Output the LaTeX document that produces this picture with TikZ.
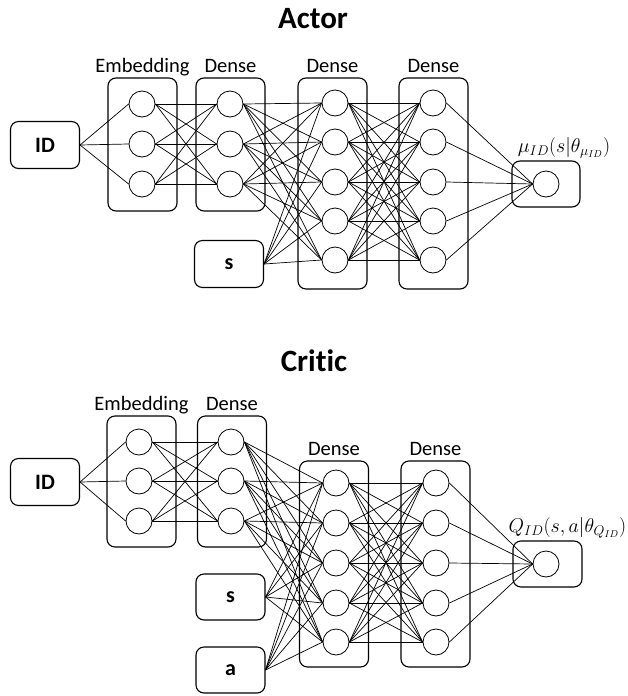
\RequirePackage{fix-cm}
\documentclass[tikz,border=0pt]{standalone}
\usepackage{fontspec}
\setmainfont{Carlito}[Ligatures=NoCommon]
\usetikzlibrary{positioning}

\begin{document}
\begin{tikzpicture}[x=1pt,y=-1pt,line join=round,
  layer/.style={draw,rounded corners=8pt,line width=1.1pt,minimum width=69pt,inner sep=0pt},
  unit/.style={draw,circle,fill=white,minimum size=26pt,inner sep=0pt,line width=0.8pt},
  inbox/.style={draw,rounded corners=8pt,line width=1.1pt,minimum width=69pt,minimum height=47pt,
    inner sep=0pt,font=\bfseries\fontsize{22}{24}\selectfont},
  lbl/.style={font=\fontsize{20.5}{22}\selectfont,inner sep=1pt,text depth=4pt},
  ttl/.style={font=\bfseries\fontsize{31}{34}\selectfont},
  mlbl/.style={font=\fontsize{20}{22}\selectfont,inner sep=1pt},
  link/.style={line width=0.7pt}]
  \useasboundingbox (0,0) rectangle (628,696);

  % ---- actor network
  \node[ttl] (a-title) at (313,19) {Actor};
  \node[inbox] (a-id) at (45,145) {ID};
  \node[inbox] (a-s) at (229,264) {s};
  \node[layer,minimum height=133pt] (a-emb) at (142.5,144.5) {};
  \node[layer,minimum height=133pt] (a-den1) at (230.5,144.5) {};
  \node[layer,minimum height=211pt] (a-den2) at (332.5,183.5) {};
  \node[layer,minimum height=211pt] (a-den3) at (433.5,183.5) {};
  \node[layer,minimum width=68pt,minimum height=46pt] (a-outbox) at (546,184) {};
  \node[lbl,above=0pt of a-emb] (a-emb-lbl) {Embedding};
  \node[lbl,above=0pt of a-den1] (a-den1-lbl) {Dense};
  \node[lbl,above=0pt of a-den2] (a-den2-lbl) {Dense};
  \node[lbl,above=0pt of a-den3] (a-den3-lbl) {Dense};
  \node[mlbl,above=1pt of a-outbox,xshift=18pt] (a-out-lbl) {$\mu_{ID}(s|\theta_{\mu_{ID}})$};
  \foreach \i/\y in {1/104,2/144,3/184} {
    \node[unit] (a-e\i) at (142,\y) {};
    \node[unit] (a-d\i) at (230,\y) {};
  }
  \foreach \i/\y in {1/103,2/142,3/182,4/221,5/260} {
    \node[unit] (a-f\i) at (335,\y) {};
    \node[unit] (a-g\i) at (433,\y) {};
  }
  \node[unit] (a-out) at (546,184) {};
  % links
  \foreach \i in {1,2,3} {
    \draw[link] (a-id.east) -- (a-e\i.west);
    \foreach \j in {1,2,3}
      \draw[link] (a-e\i.east) -- (a-d\j.west);
    \foreach \j in {1,...,5}
      \draw[link] (a-d\i.east) -- (a-f\j.west);
  }
  \foreach \i in {1,...,5} {
    \draw[link] (a-s.east) -- (a-f\i.west);
    \foreach \j in {1,...,5}
      \draw[link] (a-f\i.east) -- (a-g\j.west);
    \draw[link] (a-g\i.east) -- (a-out.west);
  }

  % ---- critic network
  \node[ttl] (c-title) at (314,361) {Critic};
  \node[inbox] (c-id) at (45,482) {ID};
  \node[inbox,minimum height=46pt] (c-s) at (230.5,597) {s};
  \node[inbox,minimum height=46pt] (c-a) at (230.5,670) {a};
  \node[layer,minimum height=131pt] (c-emb) at (141.5,481.5) {};
  \node[layer,minimum height=131pt] (c-den1) at (232,481.5) {};
  \node[layer,minimum height=206pt] (c-den2) at (334,564) {};
  \node[layer,minimum height=206pt] (c-den3) at (435.5,564) {};
  \node[layer,minimum width=69pt,minimum height=46pt] (c-outbox) at (547.5,564) {};
  \node[lbl,above=0pt of c-emb] (c-emb-lbl) {Embedding};
  \node[lbl,above=0pt of c-den1] (c-den1-lbl) {Dense};
  \node[lbl,above=0pt of c-den2] (c-den2-lbl) {Dense};
  \node[lbl,above=0pt of c-den3] (c-den3-lbl) {Dense};
  \node[mlbl,above=1pt of c-outbox,xshift=20pt] (c-out-lbl) {$Q_{ID}(s,a|\theta_{Q_{ID}})$};
  \foreach \i/\y in {1/442,2/481,3/521} {
    \node[unit] (c-e\i) at (139,\y) {};
    \node[unit] (c-d\i) at (231,\y) {};
  }
  \foreach \i/\y in {1/483,2/523,3/563,4/603,5/642} {
    \node[unit] (c-f\i) at (336,\y) {};
    \node[unit] (c-g\i) at (436,\y) {};
  }
  \node[unit] (c-out) at (546,564) {};
  % links
  \foreach \i in {1,2,3} {
    \draw[link] (c-id.east) -- (c-e\i.west);
    \foreach \j in {1,2,3}
      \draw[link] (c-e\i.east) -- (c-d\j.west);
    \foreach \j in {1,...,5}
      \draw[link] (c-d\i.east) -- (c-f\j.west);
  }
  \foreach \i in {1,...,5} {
    \draw[link] (c-s.east) -- (c-f\i.west);
    \draw[link] (c-a.east) -- (c-f\i.west);
    \foreach \j in {1,...,5}
      \draw[link] (c-f\i.east) -- (c-g\j.west);
    \draw[link] (c-g\i.east) -- (c-out.west);
  }
\end{tikzpicture}
\end{document}
